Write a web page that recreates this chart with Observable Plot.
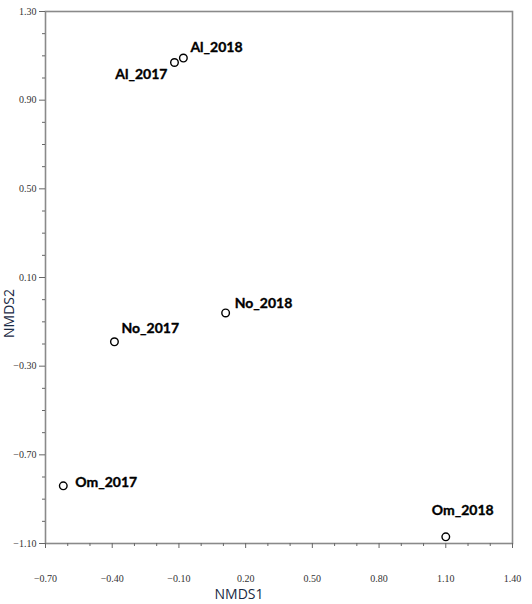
<!DOCTYPE html>
<html>
<head>
<meta charset="utf-8">
<script src="https://cdn.jsdelivr.net/npm/d3@7"></script>
<script src="https://cdn.jsdelivr.net/npm/@observablehq/plot@0.6"></script>
<style>
  html, body { margin: 0; padding: 0; background: #fff; }
  svg { display: block; }
  g[aria-label="x-axis tick label"], g[aria-label="y-axis tick label"],
  g[aria-label="x-axis tick label"] text, g[aria-label="y-axis tick label"] text {
    font-family: "Liberation Serif", "Times New Roman", serif !important;
    font-size: 10px !important;
  }
</style>
</head>
<body>
<div id="chart"></div>
<script>
// ---- data ----
const samples = ["Al_2017", "Al_2018", "No_2017", "No_2018", "Om_2017", "Om_2018"];
const nmds1 = [-0.12, -0.08, -0.39, 0.11, -0.62, 1.10];
const nmds2 = [1.07, 1.09, -0.19, -0.06, -0.84, -1.07];
const xTicks = [-0.70, -0.40, -0.10, 0.20, 0.50, 0.80, 1.10, 1.40];
const yTicks = [-1.10, -0.70, -0.30, 0.10, 0.50, 0.90, 1.30];
const xMinor = [-0.6, -0.5, -0.3, -0.2, 0.0, 0.1, 0.3, 0.4, 0.6, 0.7, 0.9, 1.0, 1.2, 1.3];
const yMinor = [-1.0, -0.9, -0.8, -0.6, -0.5, -0.4, -0.2, -0.1, 0.0, 0.2, 0.3, 0.4, 0.6, 0.7, 0.8, 1.0, 1.1, 1.2];

const data = samples.map((s, i) => ({ sample: s, x: nmds1[i], y: nmds2[i] }));

// label placement (pixels relative to each point)
const place = {
  "Al_2017": { anchor: "end",   dx: -7,  dy: 12 },
  "Al_2018": { anchor: "start", dx: 7,   dy: -11 },
  "No_2017": { anchor: "start", dx: 7,   dy: -13 },
  "No_2018": { anchor: "start", dx: 9,   dy: -9 },
  "Om_2017": { anchor: "start", dx: 12,  dy: -3 },
  "Om_2018": { anchor: "start", dx: -14, dy: -26 }
};

const tickFont = "'Liberation Serif', 'Times New Roman', serif";
const labelFont = "Lato, 'Open Sans', sans-serif";

const labelMarks = samples.map(s => Plot.text(data.filter(d => d.sample === s), {
  x: "x", y: "y", text: "sample",
  textAnchor: place[s].anchor, dx: place[s].dx, dy: place[s].dy,
  fontFamily: labelFont, fontWeight: "bold", fontSize: 14, fill: "#000",
  stroke: "#000", strokeWidth: 0.35
}));

const chart = Plot.plot({
  width: 532,
  height: 604,
  marginLeft: 45,
  marginRight: 20,
  marginTop: 11,
  marginBottom: 61,
  style: { background: "#fff" },
  x: { domain: [-0.7, 1.4] },
  y: { domain: [-1.1, 1.3] },
  marks: [
    Plot.frame({ stroke: "#8a8a8a", strokeWidth: 1.6 }),
    // minor ticks
    Plot.axisX({ ticks: xMinor, tickSize: 3, text: null, label: null, stroke: "#666" }),
    Plot.axisY({ ticks: yMinor, tickSize: 3, text: null, label: null, stroke: "#666" }),
    // major ticks with labels
    Plot.axisX({
      ticks: xTicks, tickSize: 5, tickPadding: 26, tickFormat: d3.format(".2f"),
      label: null, fontSize: 10, fontFamily: tickFont, color: "#333", stroke: "#666"
    }),
    Plot.axisY({
      ticks: yTicks, tickSize: 6, tickPadding: 3, tickFormat: d3.format(".2f"),
      label: null, fontSize: 10, fontFamily: tickFont, color: "#333", stroke: "#666"
    }),
    // axis titles
    Plot.text(["NMDS1"], {
      frameAnchor: "bottom", dx: -40, dy: 51, text: d => d,
      textAnchor: "middle", lineAnchor: "middle",
      fontFamily: "'Open Sans', sans-serif", fontSize: 14, fill: "#1a2a44"
    }),
    Plot.text(["NMDS2"], {
      frameAnchor: "left", dx: -36, dy: 36, rotate: -90, text: d => d,
      textAnchor: "middle", lineAnchor: "middle",
      fontFamily: "'Open Sans', sans-serif", fontSize: 14, fill: "#1a2a44"
    }),
    Plot.dot(data, { x: "x", y: "y", r: 3.8, stroke: "#000", strokeWidth: 1.4, fill: "#fff" }),
    ...labelMarks
  ]
});

document.getElementById("chart").appendChild(chart);
</script>
</body>
</html>
